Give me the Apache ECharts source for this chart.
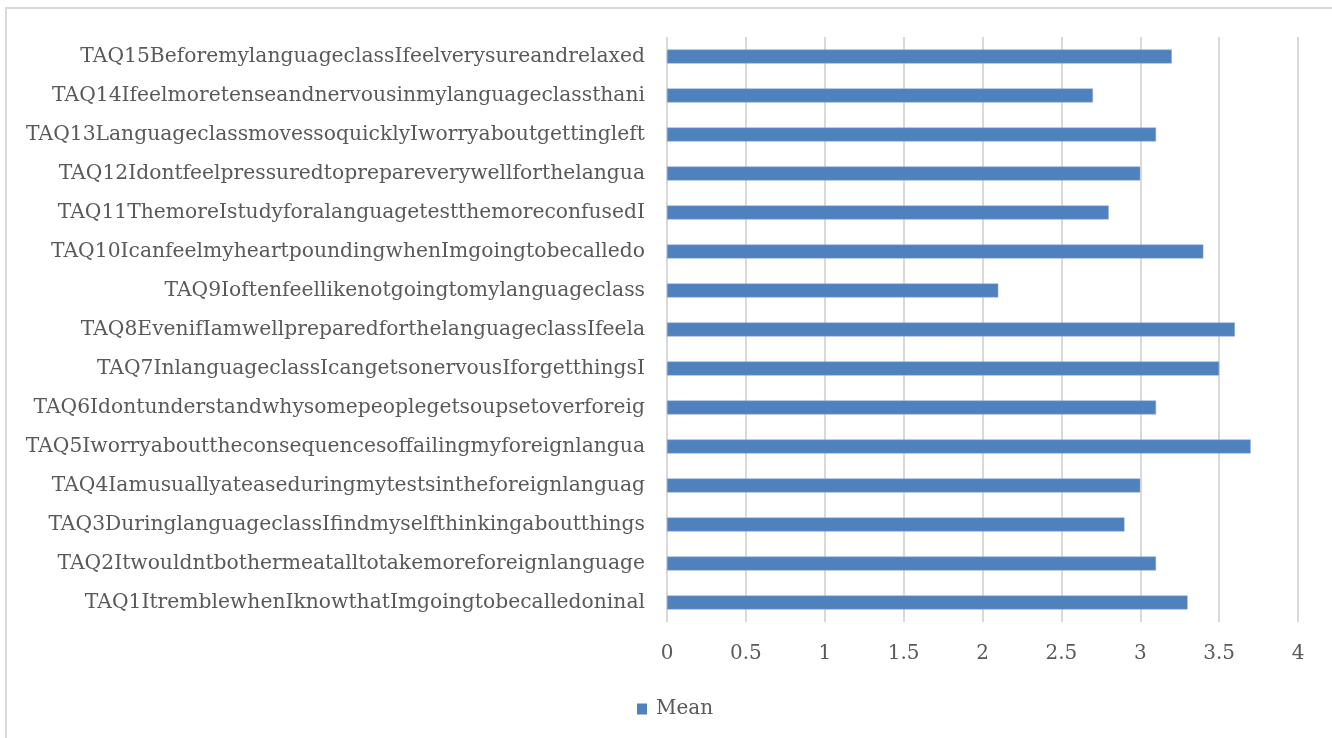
<!DOCTYPE html>
<html>
<head>
<meta charset="utf-8">
<script src="https://cdn.jsdelivr.net/npm/echarts@6/dist/echarts.min.js"></script>
<style>
html,body{margin:0;padding:0;background:#fff;}
#chart{width:1332px;height:738px;}
</style>
</head>
<body>
<div id="chart"></div>
<script>
var categories = [
  "TAQ1ItremblewhenIknowthatImgoingtobecalledoninal",
  "TAQ2Itwouldntbothermeatalltotakemoreforeignlanguage",
  "TAQ3DuringlanguageclassIfindmyselfthinkingaboutthings",
  "TAQ4Iamusuallyateaseduringmytestsintheforeignlanguag",
  "TAQ5Iworryabouttheconsequencesoffailingmyforeignlangua",
  "TAQ6Idontunderstandwhysomepeoplegetsoupsetoverforeig",
  "TAQ7InlanguageclassIcangetsonervousIforgetthingsI",
  "TAQ8EvenifIamwellpreparedforthelanguageclassIfeela",
  "TAQ9Ioftenfeellikenotgoingtomylanguageclass",
  "TAQ10IcanfeelmyheartpoundingwhenImgoingtobecalledo",
  "TAQ11ThemoreIstudyforalanguagetestthemoreconfusedI",
  "TAQ12Idontfeelpressuredtoprepareverywellforthelangua",
  "TAQ13LanguageclassmovessoquicklyIworryaboutgettingleft",
  "TAQ14Ifeelmoretenseandnervousinmylanguageclassthani",
  "TAQ15BeforemylanguageclassIfeelverysureandrelaxed"
];
var meanValues = [3.3, 3.1, 2.9, 3.0, 3.7, 3.1, 3.5, 3.6, 2.1, 3.4, 2.8, 3.0, 3.1, 2.7, 3.2];
var seriesName = "Mean";

var FONT = "DejaVu Serif";
var chart = echarts.init(document.getElementById('chart'), null, {renderer: 'canvas'});
chart.setOption({
  animation: false,
  backgroundColor: '#ffffff',
  textStyle: {fontFamily: FONT},
  graphic: [{
    type: 'polyline',
    shape: {points: [[6, 738], [6, 8], [1332, 8]]},
    style: {stroke: '#D9D9D9', lineWidth: 2, fill: null},
    silent: true
  }],
  grid: {left: 667, right: 34, top: 37, bottom: 116, containLabel: false},
  legend: {
    data: [seriesName],
    left: 632, top: 694,
    icon: 'rect', itemWidth: 10, itemHeight: 11, itemGap: 8,
    itemStyle: {color: '#4F81BD', borderWidth: 0},
    textStyle: {fontFamily: FONT, fontSize: 20, color: '#595959', padding: [0, 0, 0, 4]}
  },
  xAxis: {
    type: 'value', min: 0, max: 4, interval: 0.5,
    axisLine: {show: false}, axisTick: {show: false},
    splitLine: {show: true, lineStyle: {color: '#D9D9D9', width: 2}},
    axisLabel: {fontFamily: FONT, fontSize: 20, color: '#595959', margin: 22}
  },
  yAxis: {
    type: 'category', data: categories,
    axisLine: {show: false}, axisTick: {show: false},
    axisLabel: {fontFamily: FONT, fontSize: 20.3, color: '#595959', margin: 22}
  },
  series: [{
    name: seriesName, type: 'bar', data: meanValues,
    barWidth: 14,
    itemStyle: {color: '#4F81BD', borderColor: '#8EAADB', borderWidth: 0.5}
  }]
});
</script>
</body>
</html>
